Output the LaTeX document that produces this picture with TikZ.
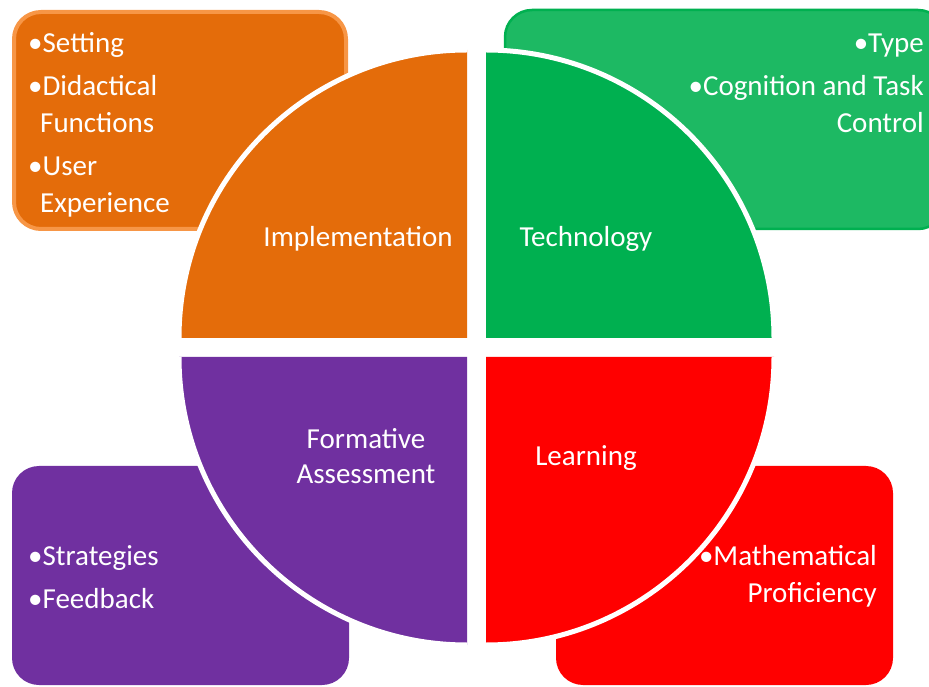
\documentclass[tikz,border=0pt]{standalone}
\usepackage{fontspec}
\setmainfont{Carlito}
\usepackage{xcolor}
\usepackage{tikz}
\definecolor{impl}{HTML}{E46C0A}
\definecolor{implline}{HTML}{F79646}
\definecolor{tech}{HTML}{00B050}
\definecolor{techbox}{HTML}{1DB963}
\definecolor{form}{HTML}{7030A0}
\definecolor{learn}{HTML}{FF0000}

\begin{document}
\begin{tikzpicture}[x=1pt,y=1pt,
  itembox/.style={rounded corners=27pt},
  rim/.style={draw=white,line width=5pt},
  label/.style={text=white,inner sep=0pt,font=\fontsize{29}{37}\selectfont}]
  \clip (0,0) rectangle (929,686);
  \useasboundingbox (0,0) rectangle (929,686);
  % detail boxes behind the circle
  \draw[itembox,fill=impl,draw=implline,line width=4pt] (14,457) rectangle (346,674);
  \draw[itembox,fill=techbox,draw=tech,line width=2.5pt] (505,457) rectangle (945,676);
  \fill[itembox,form] (12,1) rectangle (349,220);
  \fill[itembox,learn] (556,1) rectangle (893,220);
  % four quarters, white rim on the arcs
  \fill[impl] (467,348) -- ++(-288,0) arc (180:90:288) -- cycle;
  \fill[tech] (486,348) -- ++(0,288) arc (90:0:288) -- cycle;
  \fill[form] (467,329) -- ++(-288,0) arc (180:270:288) -- cycle;
  \fill[learn] (486,329) -- ++(0,-288) arc (270:360:288) -- cycle;
  \draw[rim] (467,348) ++(-288,0) arc (180:90:288);
  \draw[rim] (486,348) ++(0,288) arc (90:0:288);
  \draw[rim] (467,329) ++(-288,0) arc (180:270:288);
  \draw[rim] (486,329) ++(0,-288) arc (270:360:288);
  % quarter titles
  \node[label,anchor=base] (impl) at (358,439) {Implementation};
  \node[label,anchor=base] (tech) at (586,439) {Technology};
  \node[label,anchor=base] (form) at (366,237) {Formative};
  \node[label,anchor=base] (assess) at (366,202) {Assessment};
  \node[label,anchor=base] (learn) at (586,220) {Learning};
  % bullet lists
  \foreach \t/\x/\y [count=\i] in {\textbullet Setting/28/633,
      \textbullet Didactical/28/590, Functions/40/553,
      \textbullet User/28/510, Experience/40/473}
    \node[label,anchor=base west] (impl\i) at (\x,\y) {\t};
  \foreach \t/\y [count=\i] in {\textbullet Type/633,
      \textbullet Cognition and Task/590, Control/553}
    \node[label,anchor=base east] (tech\i) at (924,\y) {\t};
  \foreach \t/\y [count=\i] in {\textbullet Strategies/121, \textbullet Feedback/78}
    \node[label,anchor=base west] (form\i) at (28,\y) {\t};
  \foreach \t/\y [count=\i] in {\textbullet Mathematical/121, Proficiency/84}
    \node[label,anchor=base east] (learn\i) at (877,\y) {\t};
\end{tikzpicture}
\end{document}
